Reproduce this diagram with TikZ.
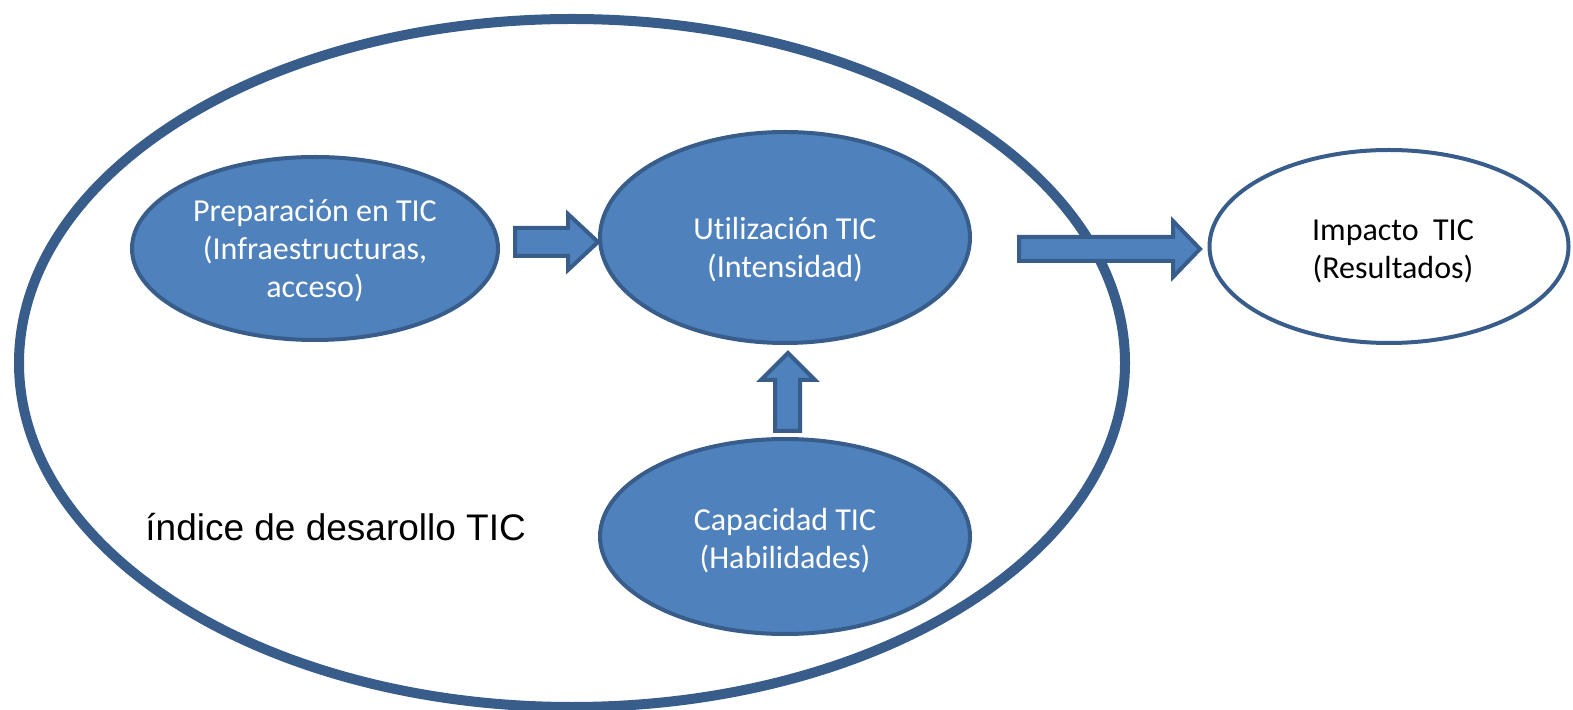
\documentclass[tikz,border=0pt]{standalone}
\usepackage{fontspec}
\setmainfont{Carlito}[RawFeature=-liga]
\newfontfamily\arialfont{Liberation Sans}
\usetikzlibrary{shapes.geometric}
\definecolor{tfill}{HTML}{4F81BD}
\definecolor{tline}{HTML}{385D8A}

\begin{document}
\begin{tikzpicture}[x=0.5pt, y=-0.5pt,
  elp/.style = {draw=tline, fill=tfill, ellipse, line width=2pt, inner sep=0pt},
  elpw/.style = {elp, fill=white},
  txt/.style = {text=white, align=center, inner sep=0pt, font=\fontsize{16}{19}\selectfont},
  txtb/.style = {txt, text=black},
  barrow/.style = {draw=tline, fill=tfill, line width=2pt, line join=miter}]
\useasboundingbox (0,0) rectangle (1573,710);
\draw[tline, line width=5pt] (572,363) ellipse [x radius=1106/2, y radius=688/2];
\node[font=\arialfont\fontsize{18.5}{22}\selectfont, anchor=west, inner sep=0pt] (idx) at (145,527) {índice de desarollo TIC};
% block arrows
\draw[barrow] (515,228) -- (568,228) -- (568,214) -- (598,242) -- (568,270) -- (568,256) -- (515,256) -- cycle;
\draw[barrow] (1019,237) -- (1173,237) -- (1173,221) -- (1200,249) -- (1173,277) -- (1173,261) -- (1019,261) -- cycle;
\draw[barrow] (775,431) -- (775,380) -- (761,380) -- (788,353) -- (815,380) -- (800,380) -- (800,431) -- cycle;
% ellipses
\node[elp, minimum width=183pt, minimum height=91.5pt] (prep) at (315,248.5) {};
\node[elp, minimum width=185pt, minimum height=105.5pt] (util) at (785,237.5) {};
\node[elp, minimum width=185pt, minimum height=97.5pt] (cap) at (785,536.5) {};
\node[elpw, minimum width=179.5pt, minimum height=96.5pt] (imp) at (1389,246.5) {};
% texts
\node[txt] (prept) at ([yshift=-1pt]prep.center) {Preparación en TIC\\(Infraestructuras,\\acceso)};
\node[txt] (utilt) at ([yshift=-6pt]util.center) {Utilización TIC\\(Intensidad)};
\node[txt] (capt) at ([yshift=-2pt]cap.center) {Capacidad TIC\\(Habilidades)};
\node[txtb] (impt) at ([xshift=2pt, yshift=-2.5pt]imp.center) {Impacto~ TIC\\(Resultados)};
\end{tikzpicture}
\end{document}
